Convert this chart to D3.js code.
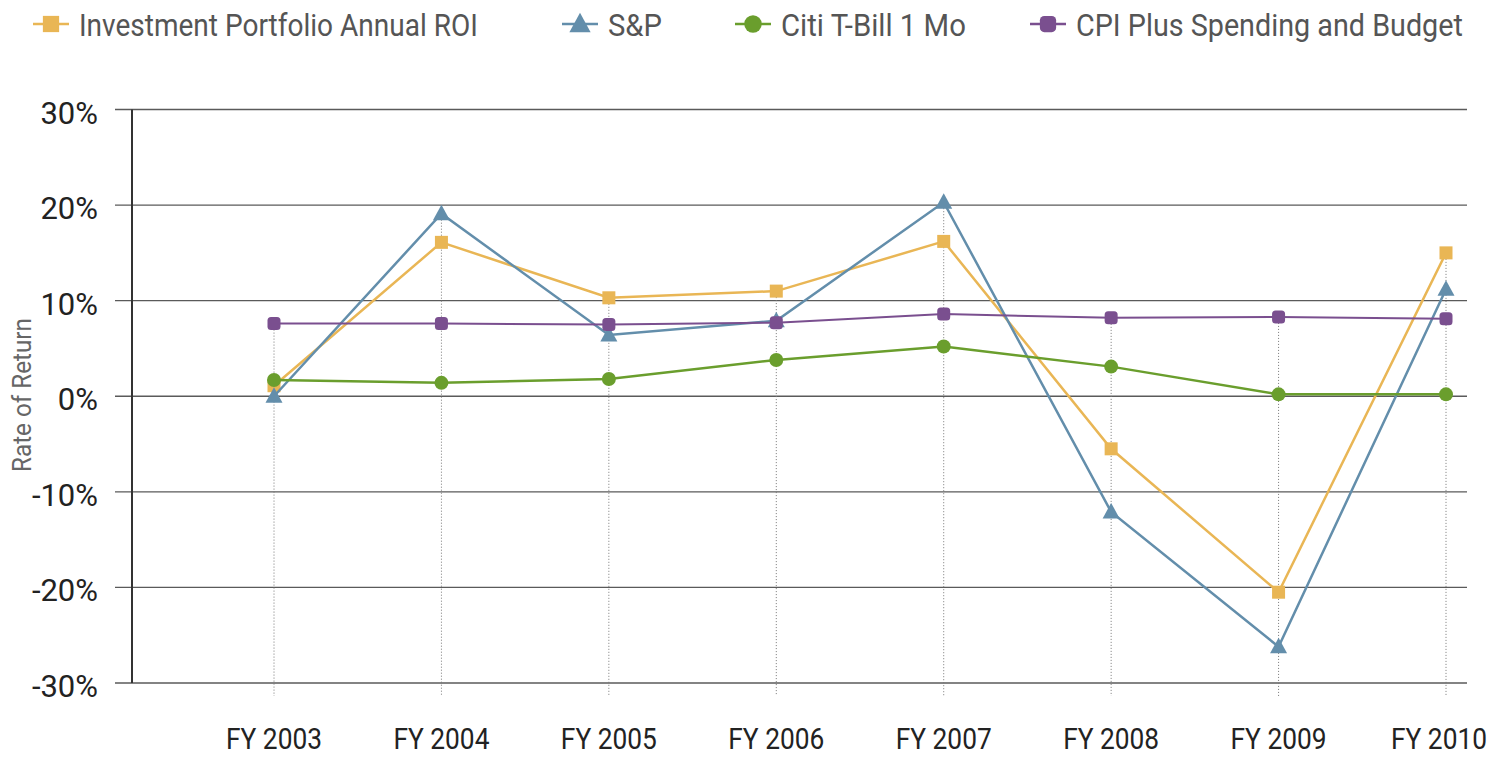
<!DOCTYPE html>
<html>
<head>
<meta charset="utf-8">
<script src="https://cdnjs.cloudflare.com/ajax/libs/d3/7.8.5/d3.min.js"></script>
<style>
body { margin: 0; background: #fff; }
svg { display: block; }
text { font-family: "Liberation Sans Narrow", "Arial Narrow", "Roboto", sans-serif; }
</style>
</head>
<body>
<div class="chart"></div>
<script>
var w = 1502;
var h = 758;

var years = ["FY 2003", "FY 2004", "FY 2005", "FY 2006", "FY 2007", "FY 2008", "FY 2009", "FY 2010"];
var roi = [1.1, 16.1, 10.3, 11.0, 16.2, -5.5, -20.5, 15.0];
var sp = [0.0, 19.1, 6.4, 7.9, 20.3, -12.1, -26.2, 11.2];
var tbill = [1.7, 1.4, 1.8, 3.8, 5.2, 3.1, 0.2, 0.2];
var cpi = [7.6, 7.6, 7.5, 7.7, 8.6, 8.2, 8.3, 8.1];
var yTicks = [-30, -20, -10, 0, 10, 20, 30];

var seriesNames = ["Investment Portfolio Annual ROI", "S&P", "Citi T-Bill 1 Mo", "CPI Plus Spending and Budget"];
var seriesColors = ["#E9B655", "#638EAB", "#6A9E2D", "#7A4F8F"];
var seriesShapes = ["square", "triangle", "circle", "rounded"];
var seriesValues = [roi, sp, tbill, cpi];

var legendX = [33, 562, 735, 1030];
var legendTextW = [399, 54, 185, 387];

var xScale = d3.scalePoint()
    .domain(years)
    .range([274, 1446]);

var yScale = d3.scaleLinear()
    .domain([-30, 30])
    .range([683, 109.5]);

var svg = d3.select(".chart")
    .append("svg")
    .attr("width", w)
    .attr("height", h);

// squeeze a text horizontally to a given width (narrow font look)
function squeeze(sel, x, y, width) {
    var natural = sel.node().getComputedTextLength();
    var sx = Math.min(1, width / natural);
    sel.attr("transform", "translate(" + x + "," + y + ") scale(" + sx + ",1)");
}

// gridlines
svg.append("g")
    .selectAll("line")
    .data(yTicks)
    .enter()
    .append("line")
    .attr("x1", 115)
    .attr("x2", 1467)
    .attr("y1", function(d) { return yScale(d); })
    .attr("y2", function(d) { return yScale(d); })
    .attr("stroke", "#5a5a5a")
    .attr("stroke-width", 1.3);

// y tick labels
svg.append("g")
    .selectAll("text")
    .data(yTicks)
    .enter()
    .append("text")
    .attr("x", 98)
    .attr("y", function(d) { return yScale(d) + 14; })
    .attr("text-anchor", "end")
    .attr("font-size", 31)
    .attr("fill", "#222")
    .text(function(d) { return d + "%"; });

// drop lines from highest point of each year
svg.append("g")
    .selectAll("line")
    .data(years)
    .enter()
    .append("line")
    .attr("x1", function(d) { return xScale(d); })
    .attr("x2", function(d) { return xScale(d); })
    .attr("y1", function(d, i) {
        return yScale(d3.max(seriesValues, function(s) { return s[i]; }));
    })
    .attr("y2", 696)
    .attr("stroke", "#777")
    .attr("stroke-width", 1)
    .attr("stroke-dasharray", "1,2");

// y axis line
svg.append("line")
    .attr("x1", 132)
    .attr("x2", 132)
    .attr("y1", yScale(30))
    .attr("y2", yScale(-30))
    .attr("stroke", "#333")
    .attr("stroke-width", 2);

// x labels (last one kept inside the page)
svg.append("g")
    .selectAll("text")
    .data(years)
    .enter()
    .append("text")
    .attr("text-anchor", "middle")
    .attr("font-size", 30)
    .attr("fill", "#222")
    .text(function(d) { return d; })
    .each(function(d) {
        squeeze(d3.select(this), Math.min(xScale(d), w - 63), 749, 96);
    });

// y title
svg.append("text")
    .attr("transform", "translate(31,395) rotate(-90)")
    .attr("text-anchor", "middle")
    .attr("font-size", 26)
    .attr("fill", "#666")
    .attr("textLength", 154)
    .attr("lengthAdjust", "spacingAndGlyphs")
    .text("Rate of Return");

function drawMarker(g, shape, color, x, y, s) {
    if (shape === "square") {
        g.append("rect")
            .attr("x", x - 6.5 * s).attr("y", y - 6.5 * s)
            .attr("width", 13 * s).attr("height", 13 * s)
            .attr("fill", color);
    } else if (shape === "triangle") {
        g.append("path")
            .attr("d", "M" + x + "," + (y - 9 * s) + "L" + (x + 8.5 * s) + "," + (y + 6.5 * s) + "L" + (x - 8.5 * s) + "," + (y + 6.5 * s) + "Z")
            .attr("fill", color);
    } else if (shape === "circle") {
        g.append("circle")
            .attr("cx", x).attr("cy", y).attr("r", 7 * s)
            .attr("fill", color);
    } else {
        g.append("rect")
            .attr("x", x - 6.5 * s).attr("y", y - 6.5 * s)
            .attr("width", 13 * s).attr("height", 13 * s)
            .attr("rx", 3.5 * s)
            .attr("fill", color);
    }
}

var line = d3.line()
    .x(function(d, i) { return xScale(years[i]); })
    .y(function(d) { return yScale(d); });

seriesValues.forEach(function(vals, k) {
    var g = svg.append("g");
    g.append("path")
        .datum(vals)
        .attr("d", line)
        .attr("fill", "none")
        .attr("stroke", seriesColors[k])
        .attr("stroke-width", k === 3 ? 2 : 2.5);
    vals.forEach(function(v, i) {
        drawMarker(g, seriesShapes[k], seriesColors[k], xScale(years[i]), yScale(v), 1);
    });

    // legend
    var lg = svg.append("g");
    lg.append("line")
        .attr("x1", legendX[k])
        .attr("x2", legendX[k] + 36)
        .attr("y1", 24)
        .attr("y2", 24)
        .attr("stroke", seriesColors[k])
        .attr("stroke-width", 2.5);
    drawMarker(lg, seriesShapes[k], seriesColors[k], legendX[k] + 18, 24, 1.25);
    var t = lg.append("text")
        .attr("font-size", 32)
        .attr("fill", "#555")
        .text(seriesNames[k]);
    squeeze(t, legendX[k] + 46, 36, legendTextW[k]);
});
</script>
</body>
</html>
